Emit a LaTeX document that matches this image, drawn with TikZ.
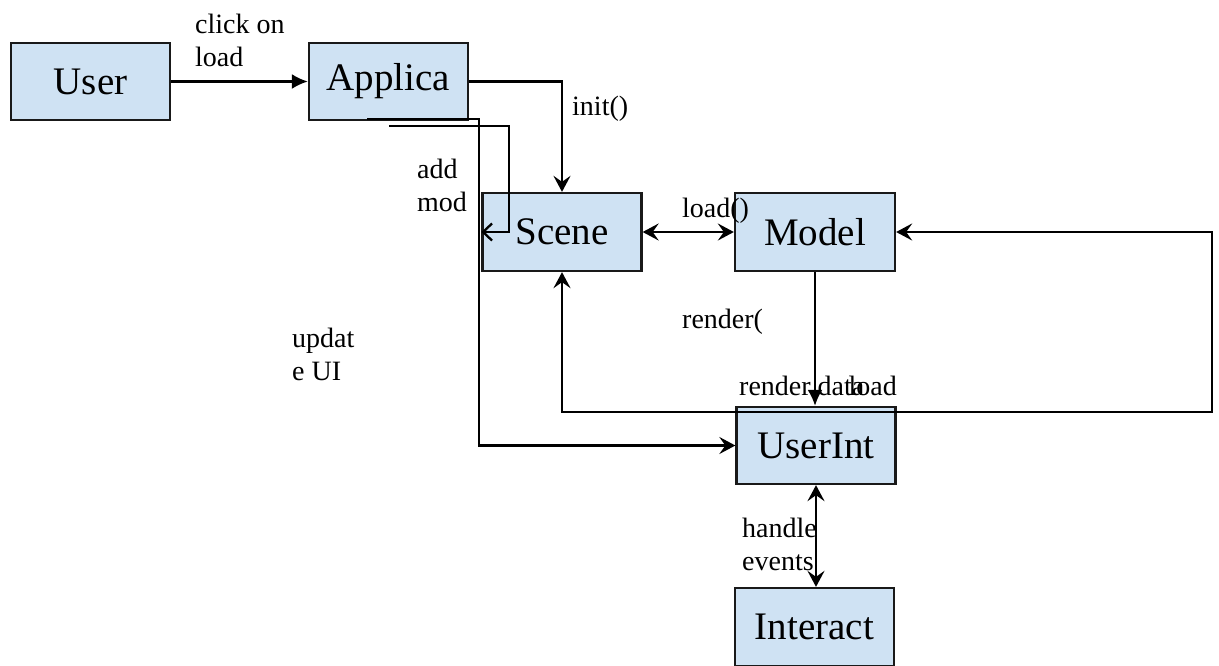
\documentclass[tikz,border=0pt]{standalone}
\usepackage{fontspec}
\setmainfont{Liberation Serif}
\usetikzlibrary{arrows.meta}
\definecolor{boxfill}{HTML}{CFE2F3}
\newcommand{\twolines}[1]{\begin{tabular}[t]{@{}l@{}}#1\end{tabular}}
\begin{document}
\begin{tikzpicture}[x=1pt,y=-1pt,
  box/.style={draw=black!90, line width=2.3pt, fill=boxfill, minimum width=159pt,
    minimum height=77pt, inner sep=0pt, font=\fontsize{39}{41}\selectfont},
  lbl/.style={anchor=base west, inner sep=0pt, font=\fontsize{28}{33}\selectfont},
  conn/.style={line width=2.3pt},
  sa/.tip={Stealth[length=16pt,width=17pt,inset=6pt]},
  la/.tip={Latex[length=16pt,width=15pt]},
  oa/.tip={Straight Barb[length=9pt,width=17pt]}
]
\useasboundingbox (0,0) rectangle (1219,665);
\fill[white] (0,0) rectangle (1219,665);
% boxes
\node[box] (user) at (90.5,81.5) {User};
\node[box] (app) at (388.5,81.5) {Applica};
\node[box, minimum height=78pt] (scene) at (562,232) {Scene};
\node[box, minimum width=160pt, minimum height=78pt] (model) at (815,232) {Model};
\node[box] (ui) at (816,445.5) {UserInt};
\node[box, minimum height=78pt] (inter) at (814.5,627) {Interact};
% connectors
\draw[conn, -la] (user) -- (app);
\draw[conn, -sa] (app.east) -| (scene.north);
\coordinate (amS) at (389,126);
\coordinate (amC) at (509,126);
\draw[conn, -oa] (amS) -- (amC) |- (scene.west);
\coordinate (uuS) at (367,119);
\coordinate (uuC) at (479,119);
\draw[conn, -sa] (uuS) -- (uuC) |- (ui.west);
\draw[conn, sa-sa] (scene.east) -- (model.west);
\draw[conn, -la] (model.south) -- (model.south |- ui.north);
\coordinate (loopc) at (1212,412);
\draw[conn, sa-sa] (scene.south) |- (loopc) |- (model.east);
\draw[conn, sa-sa] (ui.south) -- (ui.south |- inter.north);
% labels
\node[lbl] (lclick) at (195,33) {\twolines{click on\\load}};
\node[lbl] (linit) at (572,115) {init()};
\node[lbl] (ladd) at (417,178) {\twolines{add\\mod}};
\node[lbl] (lload) at (682,217) {load()};
\node[lbl] (lrender) at (682,328) {render(};
\node[lbl] (lrdata) at (739,395) {render data};
\node[lbl, anchor=base east] (lload2) at (897,395) {load};
\node[lbl] (lupd) at (292,347) {\twolines{updat\\e UI}};
\node[lbl] (lhandle) at (742,537) {\twolines{handle\\events}};
\end{tikzpicture}
\end{document}
